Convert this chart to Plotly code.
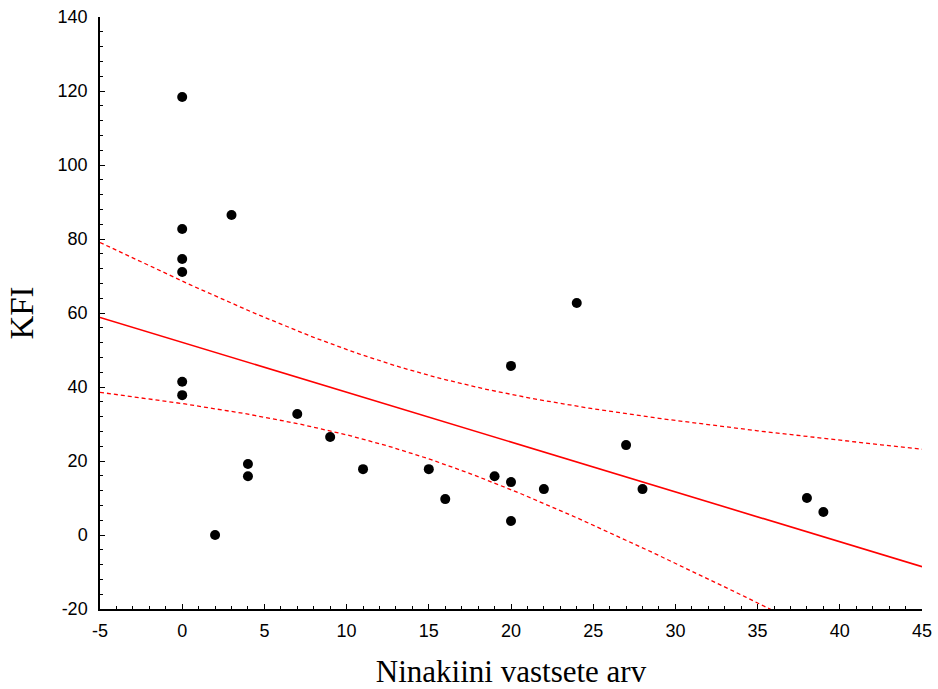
import numpy as np
import plotly.graph_objects as go

# Larval counts and KFI values
larvae = [0, 0, 0, 0, 0, 0, 2, 3, 4, 4, 7, 9, 11, 15, 16, 19, 20, 20, 20, 22, 24, 27, 28, 38, 39]
kfi = [118.4, 82.7, 74.6, 71.1, 41.4, 37.8, 0.0, 86.5, 19.2, 15.9, 32.7, 26.5, 17.8, 17.8,
       9.7, 15.9, 14.3, 3.8, 45.7, 12.4, 62.7, 24.3, 12.4, 10.0, 6.2]

x_ticks = [-5, 0, 5, 10, 15, 20, 25, 30, 35, 40, 45]
y_ticks = [-20, 0, 20, 40, 60, 80, 100, 120, 140]

# Linear fit with 95% confidence band for the mean
x = np.array(larvae, dtype=float)
y = np.array(kfi, dtype=float)
n = len(x)
slope, intercept = np.polyfit(x, y, 1)
resid = y - (intercept + slope * x)
s = np.sqrt(np.sum(resid ** 2) / (n - 2))
sxx = np.sum((x - x.mean()) ** 2)
t_crit = 2.069  # t(0.975, df=23)

xs = np.linspace(-5, 45, 201)
fit = intercept + slope * xs
half = t_crit * s * np.sqrt(1.0 / n + (xs - x.mean()) ** 2 / sxx)

fig = go.Figure()
fig.add_trace(go.Scatter(x=xs, y=fit + half, mode="lines",
                         line=dict(color="red", width=1.3, dash="4px,3px")))
fig.add_trace(go.Scatter(x=xs, y=fit - half, mode="lines",
                         line=dict(color="red", width=1.3, dash="4px,3px")))
fig.add_trace(go.Scatter(x=xs, y=fit, mode="lines",
                         line=dict(color="red", width=1.6)))
fig.add_trace(go.Scatter(x=larvae, y=kfi, mode="markers",
                         marker=dict(color="black", size=10)))

axis_common = dict(
    showgrid=False, zeroline=False, showline=True, linecolor="black", linewidth=1.5,
    ticks="inside", ticklen=5, tickwidth=1.2, tickcolor="black", automargin=False,
    tickfont=dict(family="Liberation Sans, Arial, sans-serif", size=18, color="black"),
)

fig.update_xaxes(
    range=[-5, 45], tickvals=x_ticks, ticktext=[str(v) for v in x_ticks],
    ticklabelstandoff=5,
    minor=dict(dtick=1, tick0=0, ticks="inside", ticklen=3, tickcolor="black", tickwidth=1),
    title=dict(text="Ninakiini vastsete arv", standoff=22,
               font=dict(family="Liberation Serif, Times New Roman, serif", size=31, color="black")),
    **axis_common,
)
fig.update_yaxes(
    range=[-20, 140], tickvals=y_ticks, ticktext=[str(v) for v in y_ticks],
    ticklabelstandoff=7,
    minor=dict(dtick=4, tick0=0, ticks="inside", ticklen=3, tickcolor="black", tickwidth=1),
    title=dict(text="KFI", standoff=14,
               font=dict(family="Liberation Serif, Times New Roman, serif", size=33, color="black")),
    **axis_common,
)

fig.update_layout(
    width=938, height=689,
    margin=dict(l=100, r=16, t=17, b=80, autoexpand=False),
    plot_bgcolor="white", paper_bgcolor="white",
    showlegend=False,
)

fig.write_html("out.html")
